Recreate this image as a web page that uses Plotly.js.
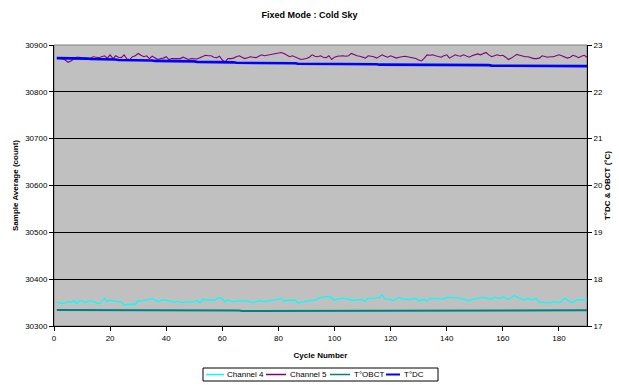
<!DOCTYPE html>
<html>
<head>
<meta charset="utf-8">
<script src="https://cdn.plot.ly/plotly-3.0.1.min.js"></script>
<style>html,body{margin:0;padding:0;background:#fff;}#chart{width:619px;height:385px;}</style>
</head>
<body>
<div id="chart"></div>
<script>
const seriesNames = ["Channel 4", "Channel 5", "T°OBCT", "T°DC"];
const seriesColors = ["#00FFFF", "#800080", "#008080", "#0000FF"];

const channel4 = [
30351,30349,30348,30350,30352,30350,30354,30348,30353,30354,
30350,30352,30354,30352,30350,30347,30352,30359,30353,30355,
30354,30352,30352,30351,30345,30346,30347,30347,30346,30354,
30353,30354,30356,30357,30359,30355,30352,30354,30356,30355,
30354,30352,30350,30353,30351,30350,30352,30351,30351,30352,
30354,30350,30357,30356,30355,30356,30355,30358,30361,30358,
30352,30355,30354,30352,30353,30354,30353,30354,30353,30352,
30350,30352,30354,30353,30352,30353,30354,30355,30355,30357,
30359,30353,30355,30355,30356,30355,30349,30351,30352,30353,
30354,30355,30355,30358,30361,30362,30362,30363,30360,30355,
30357,30359,30359,30359,30357,30355,30355,30355,30357,30356,
30353,30359,30359,30359,30360,30361,30366,30358,30357,30357,
30354,30358,30361,30358,30357,30357,30357,30358,30359,30354,
30356,30357,30354,30359,30358,30358,30357,30357,30358,30361,
30361,30360,30360,30360,30359,30358,30356,30354,30357,30358,
30359,30360,30361,30360,30358,30357,30362,30359,30359,30362,
30360,30357,30361,30365,30362,30359,30357,30356,30359,30356,
30358,30359,30351,30350,30350,30350,30350,30352,30351,30350,
30353,30359,30356,30351,30350,30355,30356,30356,30356,30356
];

const channel5 = [
30872,30871,30871,30868,30863,30866,30870,30874,30874,30873,
30871,30871,30872,30875,30874,30873,30875,30877,30872,30879,
30871,30877,30874,30873,30879,30870,30869,30875,30877,30882,
30878,30875,30877,30871,30876,30872,30869,30871,30872,30875,
30869,30871,30871,30872,30871,30874,30872,30869,30871,30870,
30870,30873,30876,30878,30877,30877,30874,30873,30876,30868,
30864,30871,30871,30872,30875,30877,30874,30871,30873,30875,
30874,30873,30876,30879,30877,30878,30879,30880,30881,30883,
30884,30882,30878,30875,30877,30874,30871,30869,30870,30871,
30874,30879,30876,30875,30877,30874,30873,30877,30869,30874,
30876,30877,30877,30876,30877,30882,30879,30877,30876,30874,
30872,30877,30876,30875,30872,30875,30879,30876,30874,30877,
30874,30872,30874,30875,30876,30875,30874,30872,30871,30868,
30866,30872,30879,30878,30879,30877,30876,30874,30877,30879,
30872,30876,30879,30877,30876,30879,30876,30874,30877,30879,
30881,30879,30881,30884,30879,30875,30877,30879,30877,30878,
30874,30869,30872,30876,30880,30878,30876,30875,30875,30873,
30871,30871,30872,30877,30876,30874,30875,30875,30877,30879,
30877,30875,30872,30874,30878,30876,30873,30876,30878,30874
];

const tOBCT = [
17.34,17.34,17.34,17.34,17.34,17.34,17.34,17.34,17.34,17.34,
17.34,17.34,17.34,17.34,17.34,17.34,17.34,17.34,17.34,17.34,
17.34,17.34,17.34,17.34,17.33,17.33,17.33,17.33,17.33,17.33,
17.33,17.33,17.33,17.33,17.33,17.33,17.33,17.33,17.33,17.33,
17.33,17.33,17.33,17.33,17.33,17.33,17.33,17.33,17.33,17.33,
17.33,17.33,17.33,17.33,17.33,17.33,17.33,17.33,17.33,17.33,
17.33,17.33,17.33,17.33,17.33,17.33,17.32,17.32,17.32,17.32,
17.32,17.32,17.325,17.325,17.325,17.325,17.325,17.325,17.325,17.325,
17.325,17.325,17.325,17.325,17.325,17.325,17.325,17.325,17.325,17.325,
17.325,17.325,17.325,17.325,17.325,17.325,17.325,17.325,17.325,17.325,
17.325,17.325,17.325,17.325,17.325,17.325,17.325,17.325,17.325,17.325,
17.325,17.325,17.325,17.325,17.325,17.325,17.325,17.325,17.325,17.325,
17.325,17.325,17.325,17.325,17.325,17.325,17.325,17.325,17.325,17.325,
17.325,17.325,17.325,17.325,17.325,17.325,17.325,17.325,17.325,17.325,
17.325,17.325,17.325,17.325,17.325,17.325,17.325,17.325,17.325,17.325,
17.325,17.325,17.325,17.325,17.325,17.32,17.32,17.32,17.335,17.335,
17.335,17.335,17.335,17.335,17.335,17.335,17.335,17.335,17.335,17.335,
17.335,17.335,17.335,17.335,17.335,17.335,17.335,17.335,17.335,17.335,
17.335,17.335,17.335,17.335,17.335,17.335,17.335,17.335,17.335,17.335
];

const tDC = [
22.72,22.72,22.72,22.72,22.72,22.72,22.71,22.71,22.71,22.71,
22.71,22.71,22.70,22.70,22.70,22.70,22.70,22.69,22.69,22.69,
22.69,22.69,22.68,22.68,22.68,22.68,22.68,22.68,22.67,22.67,
22.67,22.67,22.67,22.67,22.67,22.66,22.66,22.66,22.66,22.66,
22.66,22.66,22.65,22.65,22.65,22.65,22.65,22.65,22.65,22.65,
22.64,22.64,22.64,22.64,22.64,22.64,22.63,22.63,22.63,22.63,
22.63,22.63,22.63,22.63,22.62,22.62,22.62,22.62,22.62,22.62,
22.62,22.62,22.62,22.62,22.61,22.61,22.61,22.61,22.61,22.61,
22.61,22.61,22.61,22.61,22.61,22.61,22.60,22.60,22.60,22.60,
22.60,22.60,22.60,22.60,22.60,22.60,22.60,22.60,22.60,22.60,
22.59,22.59,22.59,22.59,22.59,22.59,22.59,22.59,22.59,22.59,
22.59,22.59,22.59,22.59,22.59,22.58,22.58,22.58,22.58,22.58,
22.58,22.58,22.58,22.58,22.58,22.58,22.58,22.58,22.58,22.58,
22.57,22.57,22.57,22.57,22.57,22.57,22.57,22.57,22.57,22.57,
22.57,22.57,22.57,22.57,22.57,22.57,22.57,22.57,22.57,22.57,
22.57,22.57,22.57,22.57,22.57,22.56,22.56,22.56,22.56,22.56,
22.56,22.56,22.56,22.56,22.56,22.56,22.56,22.56,22.56,22.56,
22.56,22.56,22.56,22.56,22.56,22.56,22.56,22.56,22.55,22.55,
22.55,22.55,22.55,22.55,22.55,22.55,22.55,22.55,22.55,22.55
];

const cycles = channel4.map((_, i) => i + 1);

const FONT = "Arial, 'Liberation Sans', sans-serif";
const W = 619, H = 385, ML = 54, MR = 32, MT = 45, MB = 59;
const PW = W - ML - MR, PH = H - MT - MB;
const px = v => (v - ML) / PW;        // pixel -> paper x
const py = v => (H - MB - v) / PH;    // pixel -> paper y

const traces = [
  {x: cycles, y: channel4, name: seriesNames[0], type: "scatter", mode: "lines",
   line: {color: seriesColors[0], width: 1.3}, yaxis: "y"},
  {x: cycles, y: channel5, name: seriesNames[1], type: "scatter", mode: "lines",
   line: {color: seriesColors[1], width: 1.1}, yaxis: "y"},
  {x: cycles, y: tOBCT, name: seriesNames[2], type: "scatter", mode: "lines",
   line: {color: seriesColors[2], width: 2}, yaxis: "y2"},
  {x: cycles, y: tDC, name: seriesNames[3], type: "scatter", mode: "lines",
   line: {color: seriesColors[3], width: 2.6}, yaxis: "y2"}
];

// custom compact legend (Excel style)
const legBox = {x0: 203, x1: 438, y0: 368, y1: 381};
const legItems = [
  {l0: 206, l1: 224, t: 225},
  {l0: 266, l1: 286, t: 288},
  {l0: 330, l1: 350, t: 352},
  {l0: 386, l1: 400, t: 402}
];
const legY = (legBox.y0 + legBox.y1) / 2;
const shapes = [
  {type: "rect", xref: "paper", yref: "paper", x0: 0, x1: 1, y0: 0, y1: 1,
   line: {color: "#808080", width: 1}, fillcolor: "rgba(0,0,0,0)", layer: "below"},
  {type: "rect", xref: "paper", yref: "paper",
   x0: px(legBox.x0), x1: px(legBox.x1), y0: py(legBox.y1), y1: py(legBox.y0),
   line: {color: "#000", width: 1}, fillcolor: "#FFFFFF"}
];
const annotations = [];
legItems.forEach((it, i) => {
  shapes.push({type: "line", xref: "paper", yref: "paper",
    x0: px(it.l0), x1: px(it.l1), y0: py(legY), y1: py(legY),
    line: {color: seriesColors[i], width: i === 3 ? 2 : 1.5}});
  annotations.push({xref: "paper", yref: "paper", x: px(it.t), y: py(legY),
    xanchor: "left", yanchor: "middle", showarrow: false, text: seriesNames[i],
    font: {family: FONT, size: 8, color: "#000"}});
});

const layout = {
  width: W, height: H,
  margin: {l: ML, r: MR, t: MT, b: MB, pad: 0},
  paper_bgcolor: "#FFFFFF",
  plot_bgcolor: "#C0C0C0",
  font: {family: FONT, size: 8, color: "#000"},
  showlegend: false,
  title: {text: "<b>Fixed Mode : Cold Sky</b>", font: {family: FONT, size: 9, color: "#000"},
          x: 0.5, xanchor: "center", y: 0.962, yanchor: "middle"},
  xaxis: {
    range: [0, 190], tick0: 0, dtick: 20, showgrid: false, zeroline: false, automargin: false,
    showline: true, linecolor: "#000", linewidth: 1,
    ticks: "outside", ticklen: 4, tickcolor: "#000",
    tickfont: {family: FONT, size: 8, color: "#000"},
    title: {text: "<b>Cycle Number</b>", font: {family: FONT, size: 8, color: "#000"}, standoff: 10}
  },
  yaxis: {
    range: [30300, 30900], tick0: 30300, dtick: 100, tickformat: "d",
    showgrid: true, gridcolor: "#000", gridwidth: 1, automargin: false,
    zeroline: false, showline: true, linecolor: "#000", linewidth: 1,
    ticks: "outside", ticklen: 4, tickcolor: "#000",
    tickfont: {family: FONT, size: 8, color: "#000"},
    title: {text: "<b>Sample Average (count)</b>", font: {family: FONT, size: 8, color: "#000"}, standoff: 5}
  },
  yaxis2: {
    range: [17, 23], tick0: 17, dtick: 1, overlaying: "y", side: "right", automargin: false,
    showgrid: false, zeroline: false, showline: true, linecolor: "#000", linewidth: 1,
    ticks: "outside", ticklen: 4, tickcolor: "#000",
    tickfont: {family: FONT, size: 8, color: "#000"},
    title: {text: "<b>T°DC &amp; OBCT (°C)</b>", font: {family: FONT, size: 8, color: "#000"}, standoff: 0}
  },
  shapes: shapes,
  annotations: annotations
};

Plotly.newPlot("chart", traces, layout, {displayModeBar: false, staticPlot: true});
</script>
</body>
</html>
